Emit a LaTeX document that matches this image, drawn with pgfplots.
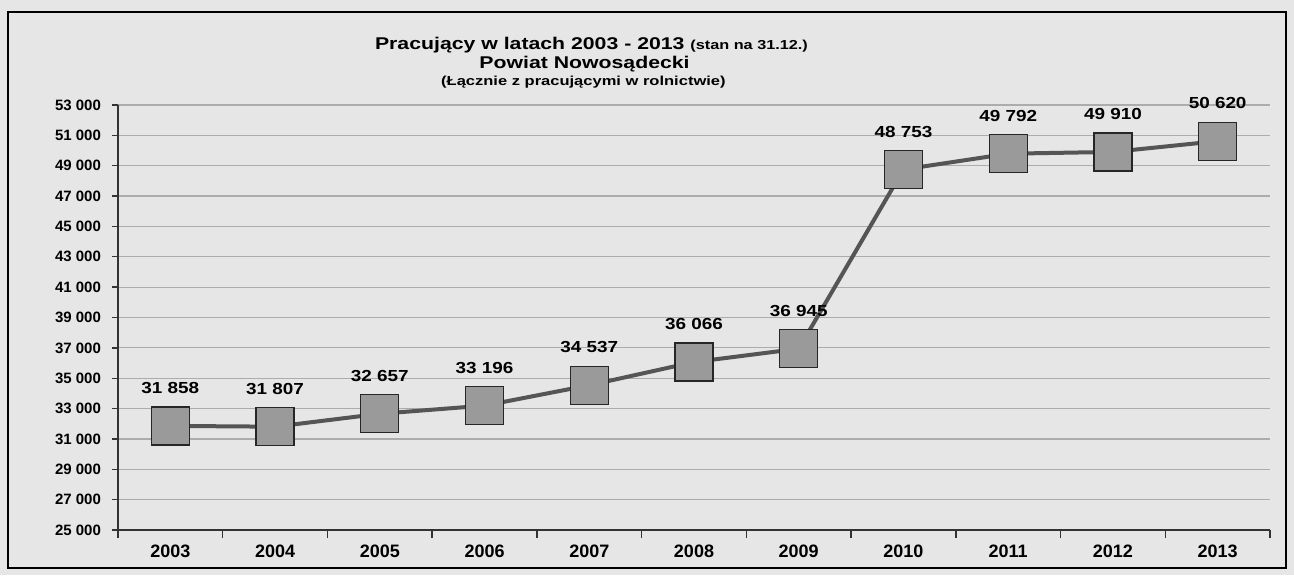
\documentclass[border=0pt]{standalone}
\usepackage{pgfplots}
\pgfplotsset{compat=1.18}
\usepackage{graphicx}
\usepackage{fontspec}
\setmainfont{Liberation Sans}

\definecolor{paper}{HTML}{E6E6E6}
\definecolor{linegray}{HTML}{555555}
\definecolor{markgray}{HTML}{9A9A9A}

% the scanned chart has horizontally stretched lettering
\newcommand{\wide}[2]{\scalebox{#1}[1]{#2}}

\begin{document}
\begin{tikzpicture}
  % scan background and outer frame (1px = 0.5pt)
  \fill[paper] (-59pt,-22.5pt) rectangle (588pt,265pt);
  \draw[black, line width=1pt] (-55pt,-19pt) rectangle (584pt,259pt);
  \begin{axis}[
    scale only axis,
    width=576pt, height=212.5pt,
    xmin=-0.5, xmax=10.5,
    ymin=25000, ymax=53000,
    axis x line*=bottom, axis y line*=left,
    axis line style={black!80, line width=0.8pt},
    xtick={0,...,10},
    xticklabels={2003,2004,2005,2006,2007,2008,2009,2010,2011,2012,2013},
    minor xtick={-0.5,0.5,...,10.5},
    major x tick style={draw=none},
    minor tick length=4pt,
    major tick length=3pt,
    tick align=outside,
    tick style={black!80, line width=0.7pt},
    ytick={25000,27000,...,53000},
    scaled y ticks=false,
    ymajorgrids,
    grid style={gray!65, line width=0.6pt},
    /pgf/number format/assume math mode=true,
    /pgf/number format/.cd, fixed, precision=0, 1000 sep={\ },
    /pgfplots/.cd,
    yticklabel style={font=\fontsize{7.5}{9}\selectfont\bfseries, xshift=-2pt},
    xticklabel style={font=\fontsize{9}{11}\selectfont\bfseries, yshift=-1pt},
    clip=false,
    nodes near coords={\wide{1.18}{\pgfmathprintnumber{\pgfplotspointmeta}}},
    every node near coord/.append style={font=\fontsize{8}{10}\selectfont\bfseries, text=black, yshift=12.5pt},
  ]
    \addplot[linegray, line width=2pt, mark=square*, mark size=9.5pt,
      mark options={fill=markgray, draw=black!85, line width=0.6pt}]
      coordinates {
        (0,31858) (1,31807) (2,32657) (3,33196) (4,34537) (5,36066)
        (6,36945) (7,48753) (8,49792) (9,49910) (10,50620)
      };
    % title, three lines
    \node[anchor=base, yshift=28pt, font=\fontsize{8.5}{10}\selectfont\bfseries]
      at (rel axis cs:0.411,1)
      {\wide{1.25}{Pracujący w latach 2003 - 2013 {\fontsize{6.5}{8}\selectfont (stan na 31.12.)}}};
    \node[anchor=base, yshift=18.5pt, font=\fontsize{8.5}{10}\selectfont\bfseries]
      at (rel axis cs:0.405,1) {\wide{1.25}{Powiat Nowosądecki}};
    \node[anchor=base, yshift=10pt, font=\fontsize{6.5}{8}\selectfont\bfseries]
      at (rel axis cs:0.404,1) {\wide{1.27}{(Łącznie z pracującymi w rolnictwie)}};
  \end{axis}
  \pgfresetboundingbox
  \path (-59pt,-22.5pt) rectangle (588pt,265pt);
\end{tikzpicture}
\end{document}
